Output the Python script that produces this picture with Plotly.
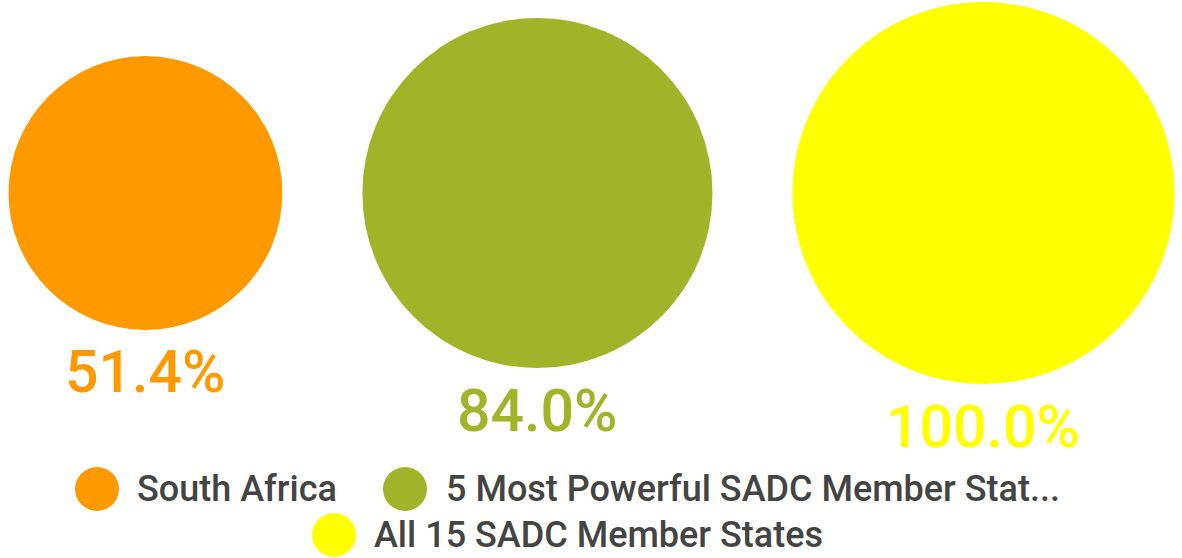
import math
import plotly.graph_objects as go

categories = ["South Africa", "5 Most Powerful SADC Member Stat...", "All 15 SADC Member States"]
values = [51.4, 84.0, 100.0]
value_labels = ["51.4%", "84.0%", "100.0%"]
colors = ["#FF9900", "#A0B42A", "#FFFF00"]

W, H = 1182, 558
max_diam = 382.0
# plotly area mode: diameter = sqrt(2 * v / sizeref)
sizeref = 2 * max(values) / max_diam ** 2
diams = [math.sqrt(2 * v / sizeref) for v in values]
gap = 80.0
left = 8.5
cy = 193.0

xs = []
cur = left
for d in diams:
    xs.append(cur + d / 2)
    cur += d + gap

fig = go.Figure()
fig.add_trace(go.Scatter(
    x=xs, y=[cy] * len(xs), mode="markers",
    marker=dict(size=values, sizemode="area", sizeref=sizeref, color=colors, line=dict(width=0), opacity=1),
    hoverinfo="text", hovertext=[f"{c}: {l}" for c, l in zip(categories, value_labels)],
    showlegend=False, cliponaxis=False,
))

annotations = []
for x, d, lab, col in zip(xs, diams, value_labels, colors):
    annotations.append(dict(
        x=x, y=cy + d / 2 + 42, xref="x", yref="y", text=lab, showarrow=False,
        xanchor="center", yanchor="middle",
        font=dict(family="Roboto", size=59, color=col, weight=500),
    ))

# custom legend
legend_rows = [[0, 1], [2]]
row_y = [489, 535]
mk = 44
legend_font = dict(family="Roboto", size=36, color="#444444", weight=500)
shapes = []
row_specs = [
    [(97, 135), (405, 444)],
    [(334, 372)],
]
for r, items in enumerate(legend_rows):
    for idx, (mx, tx) in zip(items, row_specs[r]):
        shapes.append(dict(type="circle", xref="x", yref="y",
                           x0=mx - mk / 2, x1=mx + mk / 2, y0=row_y[r] - mk / 2, y1=row_y[r] + mk / 2,
                           fillcolor=colors[idx], line=dict(width=0)))
        annotations.append(dict(x=tx, y=row_y[r], xref="x", yref="y", text=categories[idx],
                                showarrow=False, xanchor="left", yanchor="middle", font=legend_font))

fig.update_layout(
    width=W, height=H, margin=dict(l=0, r=0, t=0, b=0),
    paper_bgcolor="white", plot_bgcolor="white",
    xaxis=dict(range=[0, W], visible=False, fixedrange=True),
    yaxis=dict(range=[H, 0], visible=False, fixedrange=True),
    annotations=annotations, shapes=shapes, showlegend=False,
)

fig.write_html("out.html", config={"displayModeBar": False},
               post_script="document.body.style.margin='0';document.body.style.overflow='hidden';")
